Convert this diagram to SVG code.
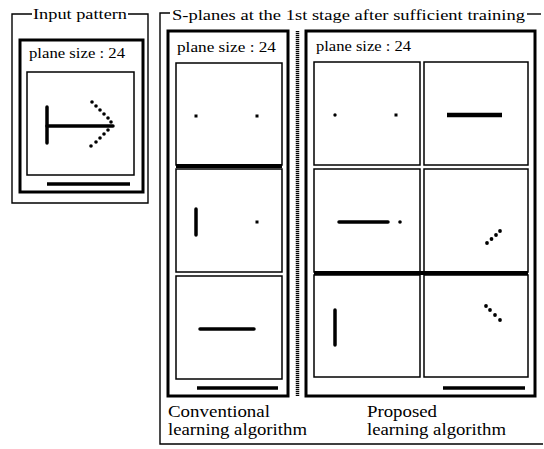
<svg xmlns="http://www.w3.org/2000/svg" width="544" height="449" viewBox="0 0 544 449">
<style>
  text { font-family: "Liberation Serif", "Times New Roman", serif; fill: #000; }
  .title { font-size: 15px; }
  .ps { font-size: 15.5px; }
  .lbl { font-size: 17px; }
  .frame { fill: none; stroke: #000; stroke-width: 1.4; }
  .box { fill: #fff; stroke: #000; stroke-width: 3; }
  .sq { fill: #fff; stroke: #000; stroke-width: 1.5; }
  .bar { stroke: #000; stroke-width: 3.5; stroke-linecap: butt; }
  .sep { stroke: #000; stroke-width: 4; }
  .pix { stroke: #000; stroke-width: 3.5; stroke-linecap: round; }
  .dot { fill: #000; }
</style>
<rect width="544" height="449" fill="#fff"/>

<g id="input-pattern">
  <path class="frame" d="M32,14 H12 V203 H148 V14 H128"/>
  <text class="title" x="33" y="19" textLength="94" lengthAdjust="spacingAndGlyphs">Input pattern</text>
  <rect class="box" x="20" y="40" width="123" height="152"/>
  <text class="ps" x="29" y="58" textLength="96" lengthAdjust="spacingAndGlyphs">plane size : 24</text>
  <g id="input-plane">
    <rect class="sq" x="27" y="72" width="107" height="103"/>
    <line class="pix" x1="47" y1="107" x2="47" y2="143"/>
    <line class="pix" x1="47" y1="126" x2="113" y2="126"/>
    <g class="dot">
      <circle cx="92" cy="102" r="1.8"/><circle cx="96" cy="106" r="1.8"/><circle cx="100" cy="110" r="1.8"/>
      <circle cx="104" cy="114" r="1.8"/><circle cx="108" cy="118" r="1.8"/><circle cx="111" cy="122" r="1.8"/>
      <circle cx="108" cy="130" r="1.8"/><circle cx="104" cy="134" r="1.8"/><circle cx="100" cy="138" r="1.8"/>
      <circle cx="96" cy="142" r="1.8"/><circle cx="91" cy="146" r="1.8"/>
    </g>
  </g>
  <line class="bar" x1="47" y1="184" x2="130" y2="184"/>
</g>

<g id="s-planes">
  <path class="frame" d="M170,13 H160 V444 H543"/>
  <line class="frame" x1="527" y1="14" x2="541" y2="14"/>
  <text class="title" x="172" y="20" textLength="353" lengthAdjust="spacingAndGlyphs">S-planes at the 1st stage after sufficient training</text>
  <line x1="297.5" y1="31" x2="297.5" y2="396" stroke="#000" stroke-width="3.5" stroke-dasharray="1.2 0.8"/>
</g>

<g id="conventional">
  <rect class="box" x="168" y="31" width="120" height="365"/>
  <text class="ps" x="177" y="52" textLength="99" lengthAdjust="spacingAndGlyphs">plane size : 24</text>
  <g id="conv-plane-1">
    <rect class="sq" x="176" y="63" width="106" height="102"/>
    <rect class="dot" x="194.5" y="114.5" width="3" height="3"/>
    <rect class="dot" x="255.5" y="114.5" width="3" height="3"/>
  </g>
  <g id="conv-plane-2">
    <rect class="sq" x="176" y="169" width="106" height="103"/>
    <line class="pix" x1="196" y1="209" x2="196" y2="235"/>
    <rect class="dot" x="255.5" y="220.5" width="3" height="3"/>
  </g>
  <g id="conv-plane-3">
    <rect class="sq" x="176" y="276" width="106" height="103"/>
    <line class="pix" x1="200" y1="329" x2="254" y2="329"/>
  </g>
  <line class="sep" x1="176" y1="166" x2="282" y2="166"/>
  <line class="bar" x1="197" y1="388" x2="278" y2="388"/>
  <text class="lbl" x="168" y="417" textLength="102" lengthAdjust="spacingAndGlyphs">Conventional</text>
  <text class="lbl" x="168" y="435" textLength="139" lengthAdjust="spacingAndGlyphs">learning algorithm</text>
</g>

<g id="proposed">
  <rect class="box" x="306" y="31" width="229" height="365"/>
  <text class="ps" x="316" y="51" textLength="95" lengthAdjust="spacingAndGlyphs">plane size : 24</text>
  <g id="prop-plane-1">
    <rect class="sq" x="314" y="62" width="106" height="103"/>
    <circle class="dot" cx="335" cy="115" r="1.7"/>
    <rect class="dot" x="394.5" y="113.5" width="3" height="3"/>
  </g>
  <g id="prop-plane-2">
    <rect class="sq" x="424" y="62" width="104" height="103"/>
    <line x1="447" y1="115" x2="502" y2="115" stroke="#000" stroke-width="4.5"/>
  </g>
  <g id="prop-plane-3">
    <rect class="sq" x="314" y="169" width="106" height="103"/>
    <line class="pix" x1="339" y1="222" x2="388" y2="222"/>
    <circle class="dot" cx="400" cy="222" r="1.8"/>
  </g>
  <g id="prop-plane-4">
    <rect class="sq" x="424" y="169" width="104" height="103"/>
    <circle class="dot" cx="487" cy="243" r="1.9"/><circle class="dot" cx="491.5" cy="239" r="1.9"/>
    <circle class="dot" cx="496" cy="235" r="1.9"/><circle class="dot" cx="500" cy="231" r="1.9"/>
  </g>
  <g id="prop-plane-5">
    <rect class="sq" x="314" y="275" width="106" height="102"/>
    <line class="pix" x1="335" y1="310" x2="335" y2="345"/>
  </g>
  <g id="prop-plane-6">
    <rect class="sq" x="424" y="275" width="104" height="102"/>
    <circle class="dot" cx="486" cy="306" r="1.9"/><circle class="dot" cx="490" cy="310" r="1.9"/>
    <circle class="dot" cx="495" cy="315" r="1.9"/><circle class="dot" cx="500" cy="320" r="1.9"/>
  </g>
  <line class="sep" x1="314" y1="273" x2="528" y2="273"/>
  <line class="bar" x1="443" y1="388" x2="525" y2="388"/>
  <text class="lbl" x="367" y="417" textLength="70" lengthAdjust="spacingAndGlyphs">Proposed</text>
  <text class="lbl" x="367" y="435" textLength="139" lengthAdjust="spacingAndGlyphs">learning algorithm</text>
</g>
</svg>
